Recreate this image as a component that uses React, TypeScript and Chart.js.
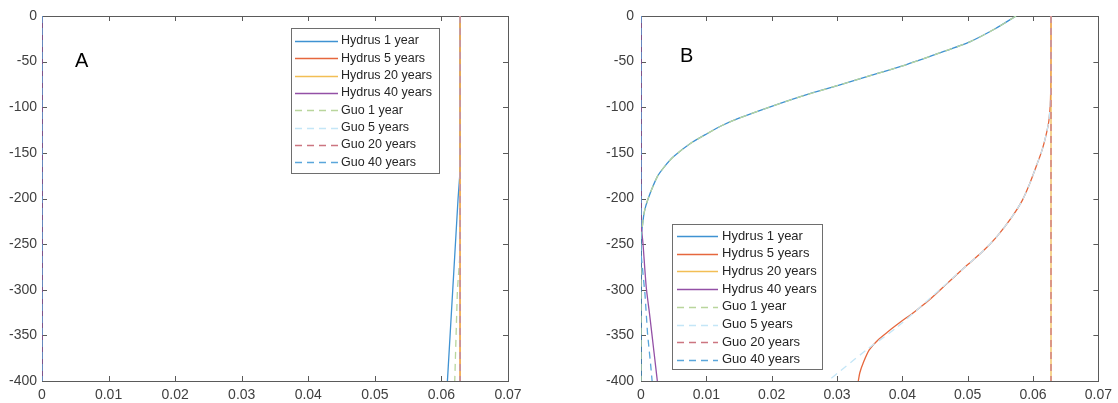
import React, { useEffect, useRef } from "react";
import { Chart, registerables } from "chart.js";
Chart.register(...registerables);

const FONT = "'Liberation Sans', Arial, sans-serif";

const SERIES_NAMES = [
  "Hydrus 1 year",
  "Hydrus 5 years",
  "Hydrus 20 years",
  "Hydrus 40 years",
  "Guo 1 year",
  "Guo 5 years",
  "Guo 20 years",
  "Guo 40 years",
];
const SERIES_COLORS = [
  "#3f92d2",
  "#e6673d",
  "#f2be55",
  "#9350a6",
  "#b9d59c",
  "#c4e6f7",
  "#cc7580",
  "#5aa6db",
];
const SERIES_DASHED = [false, false, false, false, true, true, true, true];

const X_TICKS = [0, 0.01, 0.02, 0.03, 0.04, 0.05, 0.06, 0.07];
const Y_TICKS = [0, -50, -100, -150, -200, -250, -300, -350, -400];

// ---------- Panel A (x values, depth values) ----------
const A_H1_X = [0.0628, 0.0628, 0.0625, 0.0617, 0.0609];
const A_H1_D = [0, -170, -200, -300, -400];
const A_H5_X = [0.0628, 0.0628];
const A_H5_D = [0, -400];
const A_H20_X = [0.0628, 0.0628];
const A_H20_D = [0, -400];
const A_H40_X = [0, 0];
const A_H40_D = [0, -400];
const A_G1_X = [0.0628, 0.0628, 0.0624, 0.062];
const A_G1_D = [0, -260, -300, -400];
const A_G5_X = [0.0628, 0.0628];
const A_G5_D = [0, -400];
const A_G20_X = [0.0628, 0.0628];
const A_G20_D = [0, -400];
const A_G40_X = [0, 0];
const A_G40_D = [0, -400];

// ---------- Panel B ----------
const B_H1_X = [
  0.0574, 0.0542, 0.0504, 0.0455, 0.0403, 0.0352, 0.0302, 0.025, 0.02, 0.015,
  0.0124, 0.0101, 0.0075, 0.005, 0.0036, 0.0025, 0.0011, 0.0005, 0.0002, 0, 0,
];
const B_H1_D = [
  0, -14, -28, -41, -54, -65, -76, -87, -99, -112, -120, -129, -140, -154, -165,
  -176, -200, -215, -231, -245, -400,
];
const B_H5_X = [
  0.06275, 0.06275, 0.06267, 0.06244, 0.06207, 0.06138, 0.06048, 0.05942,
  0.05836, 0.0567, 0.05443, 0.05216, 0.04959, 0.04687, 0.04415, 0.04188,
  0.03961, 0.03779, 0.03628, 0.03493, 0.03402, 0.03349, 0.03326,
];
const B_H5_D = [
  0, -48, -92, -114, -128, -147, -165, -185, -202, -221, -242, -259, -275, -293,
  -311, -324, -336, -346, -355, -366, -380, -391, -400,
];
const B_H20_X = [0.06275, 0.06275];
const B_H20_D = [0, -400];
const B_H40_X = [0, 0, 0.0003, 0.0008, 0.0013, 0.002, 0.0025];
const B_H40_D = [0, -225, -249, -297, -326, -369, -400];
const B_G1_X = B_H1_X;
const B_G1_D = B_H1_D;
const B_G5_X = [
  0.06275, 0.06275, 0.06267, 0.06244, 0.06207, 0.06138, 0.06048, 0.05942,
  0.05836, 0.0567, 0.05443, 0.05216, 0.04959, 0.04683, 0.04445, 0.0392,
  0.0345, 0.0286,
];
const B_G5_D = [
  0, -48, -92, -114, -128, -147, -165, -185, -202, -221, -242, -259, -275, -293,
  -308, -341, -366, -400,
];
const B_G20_X = [0.06275, 0.06275];
const B_G20_D = [0, -400];
const B_G40_X = [0, 0, 0.0006, 0.001, 0.0015, 0.0017];
const B_G40_D = [0, -260, -304, -348, -384, -400];

const PANEL_A_SERIES = [
  [A_H1_X, A_H1_D],
  [A_H5_X, A_H5_D],
  [A_H20_X, A_H20_D],
  [A_H40_X, A_H40_D],
  [A_G1_X, A_G1_D],
  [A_G5_X, A_G5_D],
  [A_G20_X, A_G20_D],
  [A_G40_X, A_G40_D],
];
const PANEL_B_SERIES = [
  [B_H1_X, B_H1_D],
  [B_H5_X, B_H5_D],
  [B_H20_X, B_H20_D],
  [B_H40_X, B_H40_D],
  [B_G1_X, B_G1_D],
  [B_G5_X, B_G5_D],
  [B_G20_X, B_G20_D],
  [B_G40_X, B_G40_D],
];

type LegendCfg = {
  x: number;
  y: number;
  w: number;
  h: number;
  row0: number;
  step: number;
  line0: number;
  line1: number;
  textX: number;
  fontSize: number;
};

type PanelCfg = {
  left: number;
  width: number;
  yAxisWidth: number;
  yPad: number;
  rightPad: number;
  letter: string;
  letterX: number;
  letterY: number;
  legend: LegendCfg;
  series: number[][][];
};

const PANEL_A: PanelCfg = {
  left: 0,
  width: 560,
  yAxisWidth: 42,
  yPad: 5,
  rightPad: 52,
  letter: "A",
  letterX: 75,
  letterY: 67,
  legend: { x: 291, y: 28, w: 148, h: 145, row0: 41, step: 17.3, line0: 295, line1: 338, textX: 341, fontSize: 12.5 },
  series: PANEL_A_SERIES,
};
const PANEL_B: PanelCfg = {
  left: 560,
  width: 558,
  yAxisWidth: 81,
  yPad: 7,
  rightPad: 14,
  letter: "B",
  letterX: 120,
  letterY: 62,
  legend: { x: 112, y: 224, w: 150, h: 145, row0: 236, step: 17.7, line0: 117, line1: 158, textX: 162, fontSize: 13 },
  series: PANEL_B_SERIES,
};

function Panel({ cfg }: { cfg: PanelCfg }) {
  const ref = useRef<HTMLCanvasElement | null>(null);
  useEffect(() => {
    const canvas = ref.current;
    if (!canvas) return;
    const datasets = cfg.series.map(([xs, ds], i) => ({
      label: SERIES_NAMES[i],
      data: xs.map((x, k) => ({ x, y: ds[k] })),
      borderColor: SERIES_COLORS[i],
      backgroundColor: SERIES_COLORS[i],
      borderWidth: 1.3,
      borderDash: SERIES_DASHED[i] ? [7, 5] : [],
      pointRadius: 0,
      showLine: true,
      fill: false,
      tension: xs.length > 6 ? 0.25 : 0,
      order: 7 - i,
    }));

    const boxPlugin = {
      id: "matlabBox",
      beforeDatasetsDraw(chart: any) {
        const { ctx, chartArea, scales } = chart;
        const { left, right, top, bottom } = chartArea;
        ctx.save();
        ctx.strokeStyle = "#5a5a5a";
        ctx.lineWidth = 1;
        ctx.strokeRect(Math.round(left) + 0.5, Math.round(top) + 0.5, Math.round(right - left), Math.round(bottom - top));
        ctx.beginPath();
        const tl = 5;
        X_TICKS.forEach((v) => {
          const px = Math.round(scales.x.getPixelForValue(v)) + 0.5;
          ctx.moveTo(px, bottom);
          ctx.lineTo(px, bottom - tl);
          ctx.moveTo(px, top);
          ctx.lineTo(px, top + tl);
        });
        Y_TICKS.forEach((v) => {
          const py = Math.round(scales.y.getPixelForValue(v)) + 0.5;
          ctx.moveTo(left, py);
          ctx.lineTo(left + tl, py);
          ctx.moveTo(right, py);
          ctx.lineTo(right - tl, py);
        });
        ctx.stroke();
        ctx.restore();
      },
      afterDraw(chart: any) {
        const ctx = chart.ctx;
        const lg = cfg.legend;
        ctx.save();
        ctx.fillStyle = "#000";
        ctx.font = `20px ${FONT}`;
        ctx.textBaseline = "alphabetic";
        ctx.textAlign = "left";
        ctx.fillText(cfg.letter, cfg.letterX, cfg.letterY);
        ctx.fillStyle = "#fff";
        ctx.fillRect(lg.x, lg.y, lg.w, lg.h);
        ctx.strokeStyle = "#6e6e6e";
        ctx.lineWidth = 1;
        ctx.strokeRect(lg.x + 0.5, lg.y + 0.5, lg.w, lg.h);
        ctx.font = `${lg.fontSize}px ${FONT}`;
        ctx.textBaseline = "middle";
        SERIES_NAMES.forEach((name, i) => {
          const y = lg.row0 + i * lg.step;
          ctx.strokeStyle = SERIES_COLORS[i];
          ctx.lineWidth = 1.5;
          ctx.setLineDash(SERIES_DASHED[i] ? [7, 5] : []);
          ctx.beginPath();
          ctx.moveTo(lg.line0, Math.round(y) + 0.5);
          ctx.lineTo(lg.line1, Math.round(y) + 0.5);
          ctx.stroke();
          ctx.setLineDash([]);
          ctx.fillStyle = "#262626";
          ctx.fillText(name, lg.textX, y);
        });
        ctx.restore();
      },
    };

    const chart = new Chart(canvas, {
      type: "scatter",
      data: { datasets } as any,
      options: {
        animation: false,
        responsive: false,
        devicePixelRatio: 1,
        layout: { padding: { left: 0, right: cfg.rightPad, top: 16, bottom: 0 } },
        plugins: { legend: { display: false }, tooltip: { enabled: false } },
        scales: {
          x: {
            type: "linear",
            min: 0,
            max: 0.07,
            afterFit: (s: any) => {
              s.height = 22;
            },
            afterBuildTicks: (s: any) => {
              s.ticks = X_TICKS.map((v) => ({ value: v }));
            },
            grid: { display: false, drawTicks: false },
            border: { display: false },
            ticks: {
              padding: 6,
              color: "#404040",
              font: { family: FONT, size: 14 },
              maxRotation: 0,
              callback: (v: any) => String(Number(Number(v).toFixed(2))),
            },
          },
          y: {
            type: "linear",
            min: -400,
            max: 0,
            afterFit: (s: any) => {
              s.width = cfg.yAxisWidth;
            },
            afterBuildTicks: (s: any) => {
              s.ticks = Y_TICKS.map((v) => ({ value: v }));
            },
            grid: { display: false, drawTicks: false },
            border: { display: false },
            ticks: {
              padding: cfg.yPad,
              color: "#404040",
              font: { family: FONT, size: 14 },
              callback: (v: any) => String(v),
            },
          },
        },
      } as any,
      plugins: [boxPlugin],
    });
    return () => chart.destroy();
  }, [cfg]);

  return (
    <canvas
      ref={ref}
      width={cfg.width}
      height={403}
      style={{ position: "absolute", left: cfg.left, top: 0, width: cfg.width, height: 403 }}
    />
  );
}

export default function App() {
  useEffect(() => {
    document.body.style.margin = "0";
    document.body.style.background = "#fff";
  }, []);
  return (
    <div style={{ position: "relative", width: 1118, height: 403, background: "#fff", overflow: "hidden" }}>
      <Panel cfg={PANEL_A} />
      <Panel cfg={PANEL_B} />
    </div>
  );
}
